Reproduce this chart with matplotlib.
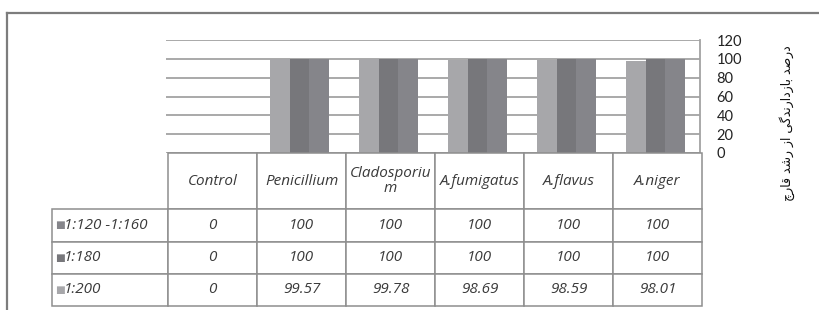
import matplotlib
matplotlib.use('Agg')
import matplotlib.pyplot as plt
import numpy as np
from matplotlib.table import Table
from matplotlib.lines import Line2D
from matplotlib import font_manager

# ---------------- data ----------------
categories = ['Control', 'Penicillium', 'Cladosporium', 'A.fumigatus', 'A.flavus', 'A.niger']
header_labels = ['Control', 'Penicillium', 'Cladosporiu\nm', 'A.fumigatus', 'A.flavus', 'A.niger']
series_names = ['1:120 -1:160', '1:180', '1:200']
s_120_160 = [0, 100, 100, 100, 100, 100]
s_180 = [0, 100, 100, 100, 100, 100]
s_200 = [0, 99.57, 99.78, 98.69, 98.59, 98.01]
yticks = [0, 20, 40, 60, 80, 100, 120]

# Persian axis title (shaped presentation forms, logical order) : درصد بازدارندگی از رشد قارچ
ylabel_logical = ('\uFEA9\uFEAD\uFEBB\uFEAA' + ' ' +
                  '\uFE91\uFE8E\uFEAF\uFEA9\uFE8D\uFEAD\uFEE7\uFEAA\uFB94\uFBFD' + ' ' +
                  '\uFE8D\uFEAF' + ' ' +
                  '\uFEAD\uFEB7\uFEAA' + ' ' +
                  '\uFED7\uFE8E\uFEAD\uFB7A')
ylabel_visual = ylabel_logical[::-1]

# ---------------- style ----------------
W, H = 820, 310
c_light = '#a7a7aa'
c_dark = '#77777b'
c_mid = '#85858a'
grid_c = '#a3a3a3'
edge_c = '#8e8e8e'
txt_c = '#3a3a3a'

avail = {f.name for f in font_manager.fontManager.ttflist}
tick_font = 'Liberation Sans Narrow' if 'Liberation Sans Narrow' in avail else 'Lato'
tbl_font = 'Open Sans'

fig = plt.figure(figsize=(W / 100, H / 100), dpi=100)
fig.patch.set_facecolor('white')

# outer frame
fig.add_artist(Line2D([7 / W, 1.0], [1 - 13 / H, 1 - 13 / H], transform=fig.transFigure,
                      color='#7d7d7d', lw=1.6))
fig.add_artist(Line2D([7 / W, 7 / W], [1 - 13 / H, 0], transform=fig.transFigure,
                      color='#7d7d7d', lw=1.6))

# ---------------- bar chart ----------------
ax = fig.add_axes([166 / W, 1 - 153 / H, 534 / W, 113 / H])
x = np.arange(len(categories))
bw = 1 / 4.5
ax.bar(x - bw, s_200, bw, color=c_light, zorder=3, label=series_names[2])
ax.bar(x, s_180, bw, color=c_dark, zorder=3, label=series_names[1])
ax.bar(x + bw, s_120_160, bw, color=c_mid, zorder=3, label=series_names[0])
ax.set_xlim(-0.5, len(categories) - 0.5)
ax.set_ylim(0, 120)
ax.set_yticks(yticks)
ax.set_xticks([])
ax.yaxis.tick_right()
ax.tick_params(axis='y', length=0, pad=12, labelsize=10.5, labelcolor='#222222')
for lab in ax.get_yticklabels():
    lab.set_fontfamily(tick_font)
ax.grid(axis='y', color=grid_c, lw=1.3, zorder=0)
for s in ['left', 'top', 'bottom']:
    ax.spines[s].set_visible(False)
ax.spines['right'].set_color(grid_c)
ax.spines['right'].set_linewidth(1.3)
ax.set_facecolor('none')

fig.text(787 / W, 1 - 123 / H, ylabel_visual, rotation=90, ha='center', va='center',
         fontsize=9, family=['DejaVu Sans'], color='#111111')

# ---------------- data table ----------------
tax = fig.add_axes([52 / W, 1 - 306 / H, 650 / W, 153 / H])
tax.set_axis_off()
col_w = [116] + [89] * len(categories)
row_h = [56, 32, 32, 32]
tw, th = sum(col_w), sum(row_h)
tbl = Table(tax, bbox=[0, 0, 1, 1])
rows_data = [s_120_160, s_180, s_200]
for j, lab in enumerate(header_labels):
    tbl.add_cell(0, j + 1, col_w[j + 1] / tw, row_h[0] / th, text=lab, loc='center',
                 facecolor='white', edgecolor=edge_c)
for i, (name, vals) in enumerate(zip(series_names, rows_data)):
    tbl.add_cell(i + 1, 0, col_w[0] / tw, row_h[i + 1] / th, text=name, loc='left',
                 facecolor='white', edgecolor=edge_c)
    for j, v in enumerate(vals):
        tbl.add_cell(i + 1, j + 1, col_w[j + 1] / tw, row_h[i + 1] / th, text=f'{v:g}',
                     loc='center', facecolor='white', edgecolor=edge_c)
tbl.auto_set_font_size(False)
tbl.set_fontsize(11)
for (r, c), cell in tbl.get_celld().items():
    cell.set_linewidth(1.1)
    t = cell.get_text()
    t.set_fontstyle('italic')
    t.set_fontfamily(tbl_font)
    t.set_color(txt_c)
    t.set_linespacing(1.05)
    if c == 0:
        cell.PAD = 0.1
tax.add_table(tbl)

# legend keys in row-label cells
key_colors = [c_mid, c_dark, c_light]
ytop = th
for i, kc in enumerate(key_colors):
    yc = ytop - row_h[0] - sum(row_h[1:i + 1]) - row_h[i + 1] / 2
    tax.text(3.0 / tw, yc / th, '\u25A0', color=kc, fontsize=7.5, ha='left', va='center',
             transform=tax.transAxes)

fig.savefig('out.png', dpi=100, facecolor='white')
